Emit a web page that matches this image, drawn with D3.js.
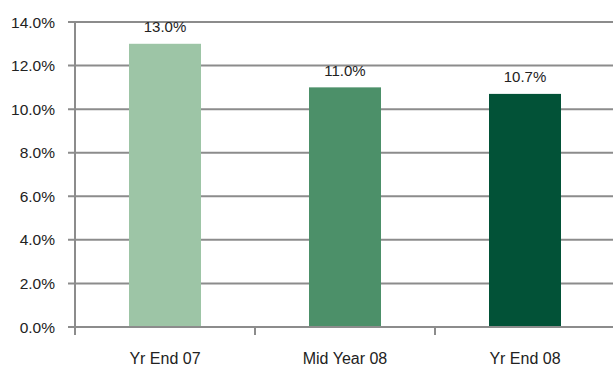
<!DOCTYPE html>
<html lang="en">
<head>
  <meta charset="UTF-8">
  <script src="https://d3js.org/d3.v7.min.js"></script>
  <style>
    body { margin: 0; background: #fff; }
    text { font-family: "Liberation Sans", Arial, sans-serif; fill: #222; }
  </style>
</head>
<body>
  <svg id="chart" width="613" height="366"></svg>
  <script>
    const categories = ["Yr End 07", "Mid Year 08", "Yr End 08"];
    const values = [13.0, 11.0, 10.7];
    const colors = ["#9dc5a6", "#4c9069", "#025237"];
    const yTicks = [0, 2, 4, 6, 8, 10, 12, 14];

    const svg = d3.select("#chart");
    const margins = { top: 22, right: 0, bottom: 39, left: 75 };
    const chartWidth = 540;
    const chartHeight = 366 - margins.top - margins.bottom;
    const axisColor = "#8c8c8c";

    const xScale = d3.scaleBand()
      .domain(categories)
      .range([0, chartWidth])
      .paddingInner(0.6)
      .paddingOuter(0.3);

    const yScale = d3.scaleLinear()
      .domain([0, 14])
      .range([chartHeight, 0]);

    const chartArea = svg.append("g")
      .attr("transform", `translate(${margins.left},${margins.top})`);

    // horizontal gridlines
    chartArea.append("g")
      .selectAll("line").data(yTicks)
      .join("line")
      .attr("x1", -7)
      .attr("x2", 613 - margins.left)
      .attr("y1", d => yScale(d))
      .attr("y2", d => yScale(d))
      .attr("stroke", axisColor)
      .attr("stroke-width", 2);

    // y tick labels
    chartArea.append("g")
      .selectAll("text").data(yTicks)
      .join("text")
      .attr("x", -20)
      .attr("y", d => yScale(d))
      .attr("dy", "0.36em")
      .attr("text-anchor", "end")
      .attr("font-size", "15.5px")
      .text(d => d.toFixed(1) + "%");

    // bars
    chartArea.selectAll("rect.bar").data(values)
      .join("rect")
      .attr("class", "bar")
      .attr("fill", (d, i) => colors[i])
      .attr("x", (d, i) => xScale(categories[i]))
      .attr("y", d => yScale(d))
      .attr("width", xScale.bandwidth())
      .attr("height", d => yScale(0) - yScale(d));

    // value labels
    chartArea.selectAll("text.val").data(values)
      .join("text")
      .attr("class", "val")
      .attr("x", (d, i) => xScale(categories[i]) + xScale.bandwidth() / 2)
      .attr("y", d => yScale(d) - 17)
      .attr("dy", "0.36em")
      .attr("text-anchor", "middle")
      .attr("font-size", "15px")
      .text(d => d.toFixed(1) + "%");

    // y axis line
    chartArea.append("line")
      .attr("x1", 0).attr("x2", 0)
      .attr("y1", 0).attr("y2", chartHeight + 8)
      .attr("stroke", axisColor)
      .attr("stroke-width", 2);

    // x axis line + category ticks
    const step = xScale.step();
    chartArea.append("line")
      .attr("x1", 0).attr("x2", 613 - margins.left)
      .attr("y1", chartHeight).attr("y2", chartHeight)
      .attr("stroke", axisColor)
      .attr("stroke-width", 2);
    chartArea.append("g")
      .selectAll("line").data(d3.range(1, categories.length + 1))
      .join("line")
      .attr("x1", d => d * step).attr("x2", d => d * step)
      .attr("y1", chartHeight).attr("y2", chartHeight + 8)
      .attr("stroke", axisColor)
      .attr("stroke-width", 2);

    // category labels
    chartArea.selectAll("text.cat").data(categories)
      .join("text")
      .attr("class", "cat")
      .attr("x", d => xScale(d) + xScale.bandwidth() / 2)
      .attr("y", chartHeight + 31)
      .attr("dy", "0.36em")
      .attr("text-anchor", "middle")
      .attr("font-size", "16px")
      .text(d => d);
  </script>
</body>
</html>
